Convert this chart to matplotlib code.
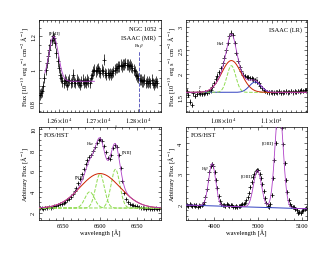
import numpy as np
import matplotlib
matplotlib.use("Agg")
import matplotlib.pyplot as plt
from matplotlib.ticker import MultipleLocator, FuncFormatter

plt.rcParams['font.family'] = ['Liberation Serif', 'DejaVu Serif']
plt.rcParams['mathtext.fontset'] = 'stix'

# ---------------- data ----------------
# Panel 1: ISAAC MR spectrum (start wavelength, step, flux)
p1_start, p1_step = 12552, 3
p1_flux = [0.85, 0.86, 0.87, 0.90, 0.95, 1.00, 1.04, 1.08, 1.12, 1.15, 1.18, 1.20, 1.19, 1.16,
           1.10, 1.05, 1.01, 0.97, 0.95, 0.93, 0.92, 0.94, 0.93, 0.91, 0.93, 0.94, 0.92, 0.93,
           0.97, 0.93, 0.92, 0.94, 0.93, 0.92, 0.91, 0.93, 0.94, 0.92, 0.93, 0.92, 0.94, 0.93,
           0.92, 0.95, 0.97, 0.99, 1.00, 0.99, 1.00, 1.01, 0.99, 0.98, 1.00, 0.99, 1.06, 0.98,
           0.97, 0.98, 0.97, 0.98, 0.97, 0.98, 0.99, 1.00, 1.01, 1.01, 1.02, 1.02, 1.03, 1.02,
           1.03, 1.03, 1.04, 1.03, 1.03, 1.02, 1.03, 1.02, 1.01, 1.00, 0.99, 0.97, 0.96, 0.95,
           0.94, 0.94, 0.93, 0.93, 0.94, 0.92, 0.93, 0.92, 0.93, 0.92, 0.94, 0.92, 0.91, 0.92,
           0.93, 0.92]
p1_err = 0.032
p1_fe = dict(center=12587, amp=0.27, sigma=12, cont=0.93, lo=12565, hi=12690)
p1_pab = 12802

# Panel 2: ISAAC LR spectrum
p2_start, p2_step = 10652, 7
p2_flux = [1.62, 1.55, 1.40, 1.33, 1.58, 1.52, 1.57, 1.60, 1.58, 1.57, 1.58, 1.60, 1.59, 1.62,
           1.64, 1.72, 1.80, 1.89, 1.96, 2.03, 2.12, 2.22, 2.34, 2.50, 2.66, 2.80, 2.88, 2.82,
           2.65, 2.45, 2.28, 2.14, 2.05, 1.98, 1.95, 1.93, 1.92, 1.91, 1.90, 1.88, 1.86, 1.83,
           1.79, 1.74, 1.69, 1.65, 1.63, 1.61, 1.60, 1.61, 1.60, 1.59, 1.61, 1.60, 1.62, 1.59,
           1.60, 1.61, 1.62, 1.60, 1.61, 1.63, 1.60, 1.62, 1.61, 1.63, 1.62, 1.64, 1.63, 1.65,
           1.64]
p2_err = 0.05
p2_cont = 1.60
p2_broad = dict(center=10835, amp=0.68, sigma=40)
p2_narrow = dict(center=10835, amp=0.57, sigma=18)
p2_pag = dict(center=10932, amp=0.22, sigma=24)

# Panel 3: FOS/HST H-alpha region
p3_start, p3_step = 6518, 2.5
p3_flux = [2.50, 2.45, 2.40, 2.50, 2.45, 2.55, 2.50, 2.55, 2.60, 2.65, 2.70, 2.80, 2.85, 2.95,
           3.05, 3.20, 3.35, 3.55, 3.80, 4.05, 4.40, 4.80, 5.25, 5.70, 6.20, 6.65, 7.00, 7.30,
           7.55, 7.90, 8.30, 8.70, 9.00, 9.10, 8.90, 8.40, 7.80, 7.20, 7.10, 7.50, 8.20, 8.50,
           8.30, 7.50, 6.30, 5.00, 3.90, 3.30, 3.00, 2.85, 2.75, 2.70, 2.65, 2.60, 2.55, 2.50,
           2.50, 2.45, 2.40, 2.45, 2.40, 2.35, 2.40, 2.45, 2.40, 2.35]
p3_err = 0.10
p3_cont = 2.45
p3_broad = dict(center=6600, amp=3.3, sigma=27)
p3_narrow = [dict(center=6586, amp=1.55, sigma=6.5),
             dict(center=6600, amp=3.25, sigma=6),
             dict(center=6621, amp=3.7, sigma=6)]

# Panel 4: FOS/HST H-beta / [OIII] region
p4_start, p4_step = 4838, 3
p4_flux = [1.98, 1.95, 2.00, 1.96, 1.93, 1.98, 1.95, 1.97, 1.92, 1.96, 1.94, 1.97, 2.00, 2.08,
           2.25, 2.50, 2.80, 3.05, 3.25, 3.32, 3.25, 3.05, 2.80, 2.52, 2.28, 2.10, 2.00, 1.96,
           1.98, 1.95, 2.00, 1.97, 1.93, 1.98, 1.96, 1.92, 1.90, 1.93, 1.91, 1.95, 1.93, 1.97,
           2.00, 2.02, 2.05, 2.12, 2.22, 2.38, 2.55, 2.72, 2.88, 3.00, 3.08, 3.12, 3.10, 3.00,
           2.85, 2.65, 2.42, 2.20, 2.05, 1.95, 1.90, 2.00, 2.30, 2.85, 3.45, 4.00, 4.60, 4.90,
           5.00, 4.85, 4.50, 3.95, 3.35, 2.80, 2.40, 2.15, 2.00, 1.95, 1.92, 1.90, 1.85, 1.80,
           1.72, 1.75, 1.70, 1.78, 1.80, 1.85, 1.88]
p4_err = 0.06
p4_cont = dict(left=1.97, right=1.85)
p4_lines = [dict(center=4895, amp=1.38, sigma=8),
            dict(center=4998, amp=1.20, sigma=9),
            dict(center=5047, amp=3.4, sigma=9)]

# ---------------- helpers ----------------
def gauss(x, c):
    return c['amp'] * np.exp(-0.5 * ((x - c['center']) / c['sigma']) ** 2)

C_DATA = 'black'
C_FIT = '#b040c8'
C_RED = '#cc2200'
C_GREEN = '#8fdc50'
C_BLUE = '#3040c0'
FS = 4.6

def style(ax, xmaj, xmin, ymaj, ymin):
    ax.tick_params(which='both', direction='in', top=True, right=True, labelsize=FS, pad=2)
    ax.tick_params(which='major', length=2.5, width=0.4)
    ax.tick_params(which='minor', length=1.3, width=0.4)
    ax.xaxis.set_major_locator(MultipleLocator(xmaj))
    ax.xaxis.set_minor_locator(MultipleLocator(xmin))
    ax.yaxis.set_major_locator(MultipleLocator(ymaj))
    ax.yaxis.set_minor_locator(MultipleLocator(ymin))
    ax.yaxis.set_major_formatter(FuncFormatter(lambda v, p: '%g' % round(v, 3)))
    ax.tick_params(axis='y', labelrotation=90)
    for lab in ax.get_yticklabels():
        lab.set_va('center')
    for s in ax.spines.values():
        s.set_linewidth(0.5)
    ax.set_xlabel('wavelength [Å]', fontsize=FS, labelpad=1)

def sci(v, p):
    m = v / 1e4
    return r'$%g\!\times\!10^4$' % round(m, 3)

def data(ax, x, y, err):
    ax.errorbar(x, y, yerr=err, fmt='+', color=C_DATA, ms=2.6, mew=0.5,
                elinewidth=0.5, capsize=0, zorder=3)

fig = plt.figure(figsize=(3.3, 2.55), dpi=100)
ax1 = fig.add_axes([0.118, 0.557, 0.370, 0.361])
ax2 = fig.add_axes([0.564, 0.557, 0.367, 0.361])
ax3 = fig.add_axes([0.118, 0.133, 0.370, 0.365])
ax4 = fig.add_axes([0.564, 0.133, 0.367, 0.365])

# ---- panel 1 ----
x1 = p1_start + p1_step * np.arange(len(p1_flux))
data(ax1, x1, p1_flux, p1_err)
xf = np.linspace(p1_fe['lo'], p1_fe['hi'], 300)
ax1.plot(xf, p1_fe['cont'] + gauss(xf, p1_fe), color=C_FIT, lw=0.6, zorder=4)
ax1.plot([p1_pab, p1_pab], [0.745, 1.11], ls='--', color='#6060c0', lw=0.7, zorder=5)
ax1.text(p1_pab, 1.125, r'Pa$\beta$', fontsize=3.6, ha='center', va='bottom')
ax1.text(12590, 1.215, '[FeII]', fontsize=3.6, ha='center', va='bottom')
ax1.text(0.96, 0.93, 'NGC 1052', transform=ax1.transAxes, fontsize=FS, ha='right', va='top')
ax1.text(0.96, 0.84, 'ISAAC (MR)', transform=ax1.transAxes, fontsize=FS, ha='right', va='top')
ax1.set_xlim(12550, 12858)
ax1.set_ylim(0.745, 1.30)
style(ax1, 100, 10, 0.2, 0.05)
ax1.xaxis.set_major_formatter(FuncFormatter(sci))
ax1.set_ylabel(r'Flux [10$^{-15}$ erg s$^{-1}$ cm$^{-2}$ Å$^{-1}$]', fontsize=FS, labelpad=1)

# ---- panel 2 ----
x2 = p2_start + p2_step * np.arange(len(p2_flux))
data(ax2, x2, p2_flux, p2_err)
xm = np.linspace(10650, 11145, 500)
ax2.plot(xm, p2_cont + gauss(xm, p2_pag), color=C_BLUE, lw=0.7, zorder=4)
ax2.plot(xm, p2_cont + gauss(xm, p2_narrow), color=C_GREEN, lw=0.7, ls='--', zorder=4)
ax2.plot(xm, p2_cont + gauss(xm, p2_broad), color=C_RED, lw=0.7, zorder=4)
ax2.plot(xm, p2_cont + gauss(xm, p2_broad) + gauss(xm, p2_narrow) + gauss(xm, p2_pag),
         color=C_FIT, lw=0.6, zorder=5)
ax2.text(10805, 2.66, 'HeI', fontsize=3.6, ha='right', va='center')
ax2.text(10706, 1.72, r'$\gamma$', fontsize=3.6, ha='center', va='center')
ax2.text(10940, 1.92, r'$\gamma$', fontsize=3.6, ha='center', va='center')
ax2.text(0.96, 0.93, 'ISAAC (LR)', transform=ax2.transAxes, fontsize=FS, ha='right', va='top')
ax2.set_xlim(10650, 11145)
ax2.set_ylim(1.18, 3.15)
style(ax2, 200, 20, 0.5, 0.1)
ax2.xaxis.set_major_formatter(FuncFormatter(sci))
ax2.set_ylabel(r'Flux [10$^{-15}$ erg s$^{-1}$ cm$^{-2}$ Å$^{-1}$]', fontsize=FS, labelpad=1)

# ---- panel 3 ----
x3 = p3_start + p3_step * np.arange(len(p3_flux))
data(ax3, x3, p3_flux, p3_err)
xm = np.linspace(6515, 6685, 500)
tot = p3_cont + gauss(xm, p3_broad)
for c in p3_narrow:
    ax3.plot(xm, p3_cont + gauss(xm, c), color=C_GREEN, lw=0.7, ls='--', zorder=4)
    tot = tot + gauss(xm, c)
ax3.plot(xm, p3_cont + gauss(xm, p3_broad), color=C_RED, lw=0.7, zorder=4)
ax3.plot(xm, tot, color=C_FIT, lw=0.6, zorder=5)
ax3.text(6587, 8.75, r'H$\alpha$', fontsize=3.6, ha='center', va='center')
ax3.text(6636, 7.9, '[NII]', fontsize=3.6, ha='center', va='center')
ax3.text(6572, 5.5, '[NII]', fontsize=3.6, ha='center', va='center')
ax3.text(0.04, 0.95, 'FOS/HST', transform=ax3.transAxes, fontsize=FS, ha='left', va='top')
ax3.set_xlim(6517, 6683)
ax3.set_ylim(1.3, 10.2)
style(ax3, 50, 10, 2, 0.5)
ax3.set_ylabel(r'Arbitrary Flux [Å$^{-1}$]', fontsize=FS, labelpad=1)

# ---- panel 4 ----
x4 = p4_start + p4_step * np.arange(len(p4_flux))
data(ax4, x4, p4_flux, p4_err)
xm = np.linspace(4836, 5111, 600)
cont4 = p4_cont['left'] + (p4_cont['right'] - p4_cont['left']) * (xm - xm[0]) / (xm[-1] - xm[0])
tot4 = cont4.copy()
for c in p4_lines:
    tot4 = tot4 + gauss(xm, c)
ax4.plot(xm, cont4, color=C_BLUE, lw=0.7, zorder=4)
ax4.plot(xm, tot4, color=C_FIT, lw=0.6, zorder=5)
ax4.text(4879, 3.18, r'H$\beta$', fontsize=3.6, ha='center', va='center')
ax4.text(4974, 2.95, '[OIII]', fontsize=3.6, ha='center', va='center')
ax4.text(5022, 4.0, '[OIII]', fontsize=3.6, ha='center', va='center')
ax4.text(0.04, 0.95, 'FOS/HST', transform=ax4.transAxes, fontsize=FS, ha='left', va='top')
ax4.set_xlim(4836, 5111)
ax4.set_ylim(1.48, 4.52)
style(ax4, 100, 20, 1, 0.2)
ax4.set_ylabel(r'Arbitrary Flux [Å$^{-1}$]', fontsize=FS, labelpad=1)

fig.savefig('out.png', dpi=100)
